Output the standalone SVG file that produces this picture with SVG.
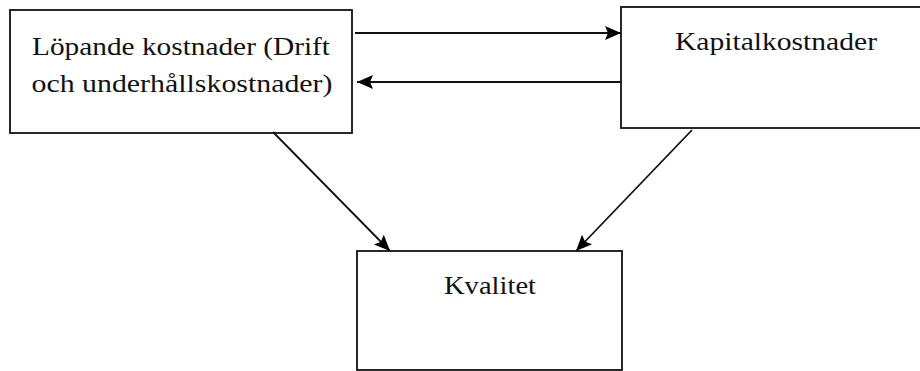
<svg xmlns="http://www.w3.org/2000/svg" width="920" height="371" viewBox="0 0 920 371">
<defs>
<marker id="ah" markerUnits="userSpaceOnUse" markerWidth="18" markerHeight="14" refX="16" refY="7" orient="auto">
<path d="M0,0 L16,7 L0,14 L3,7 Z" fill="#000"/>
</marker>
<style>
.box{fill:#fff;stroke:#111;stroke-width:1.8}
.lbl{font-family:"Liberation Serif","DejaVu Serif",serif;font-size:26px;fill:#111}
.con{stroke:#111;stroke-width:1.8;fill:none;marker-end:url(#ah)}
</style>
</defs>
<rect width="920" height="371" fill="#fff"/>
<g id="node-lopande">
<rect class="box" x="10" y="10" width="342" height="123"/>
<text class="lbl" x="181" y="55" text-anchor="middle" textLength="298" lengthAdjust="spacingAndGlyphs">Löpande kostnader (Drift</text>
<text class="lbl" x="182" y="92" text-anchor="middle" textLength="301" lengthAdjust="spacingAndGlyphs">och underhållskostnader)</text>
</g>
<g id="node-kapital">
<rect class="box" x="621" y="7" width="310" height="121"/>
<text class="lbl" x="776" y="50" text-anchor="middle" textLength="202" lengthAdjust="spacingAndGlyphs">Kapitalkostnader</text>
</g>
<g id="node-kvalitet">
<rect class="box" x="357" y="251" width="265" height="119"/>
<text class="lbl" x="490" y="294" text-anchor="middle" textLength="92" lengthAdjust="spacingAndGlyphs">Kvalitet</text>
</g>
<g id="connectors">
<line class="con" x1="355" y1="33" x2="621" y2="33"/>
<line class="con" x1="621" y1="82" x2="357" y2="82"/>
<line class="con" x1="273" y1="132" x2="390" y2="251"/>
<line class="con" x1="692" y1="130" x2="576" y2="251"/>
</g>
</svg>
